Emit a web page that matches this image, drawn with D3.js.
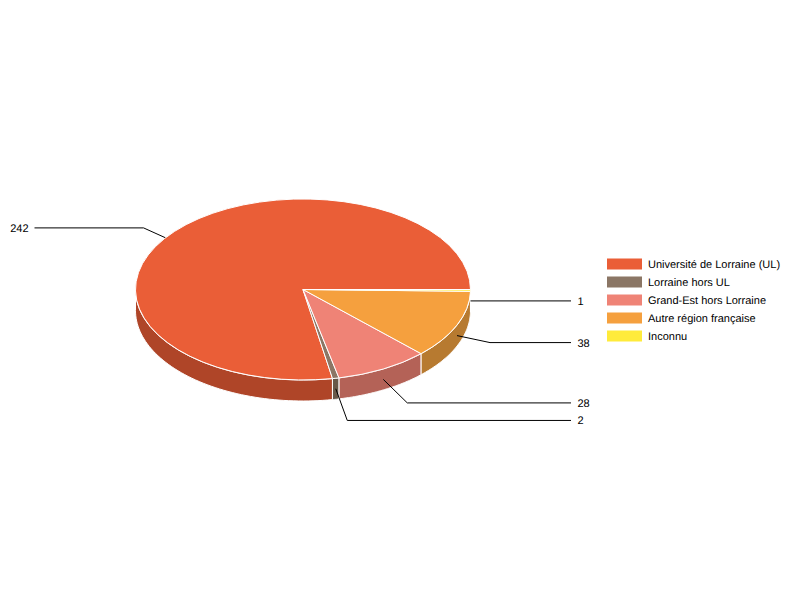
<!DOCTYPE html>
<html>
<head>
<meta charset="utf-8">
<style>
  html, body { margin: 0; padding: 0; background: #fff; }
  text { font-family: "Liberation Sans", Arial, sans-serif; font-size: 11px; fill: #000; text-rendering: geometricPrecision; }
</style>
</head>
<body>
<div id="container"></div>
<script src="https://cdnjs.cloudflare.com/ajax/libs/d3/7.8.5/d3.min.js"></script>
<script>
// Data
const categories = ['Université de Lorraine (UL)', 'Lorraine hors UL', 'Grand-Est hors Lorraine', 'Autre région française', 'Inconnu'];
const values = [242, 2, 28, 38, 1];
const topColors = ['#ea5e37', '#8b7665', '#ef8376', '#f5a03e', '#ffeb3b'];
const sideColors = ['#af4528', '#685849', '#b46257', '#b77a30', '#bfb02c'];

// Leader line bends, relative to the anchor on the pie edge
const bends = [[-31, -14], [11.5, 31.7], [24, 23.5], [33, 7], [0, 0]];

const width = 800;
const height = 600;
const cx = 303;
const cy = 289.5;
const rx = 167.5;
const ry = 90.5;
const depth = 21;
const lineEnd = { left: 34.5, right: 571 };

const svg = d3.select('#container').append('svg')
    .attr('width', width)
    .attr('height', height)
    .style('display', 'block');

const topColor = d3.scaleOrdinal().domain(categories).range(topColors);
const sideColor = d3.scaleOrdinal().domain(categories).range(sideColors);

// Counter clockwise from 3 o'clock, angles are d3 ones (0 at 12 o'clock)
const pie = d3.pie().sort(null).startAngle(Math.PI / 2).endAngle(Math.PI / 2 - 2 * Math.PI);
const slices = pie(values).map((d, i) => ({ ...d, name: categories[i], bend: bends[i] }));

const px = a => cx + rx * Math.sin(a);
const py = a => cy - ry * Math.cos(a);

// Leader lines
const leader = d => {
    const mid = (d.startAngle + d.endAngle) / 2;
    const ax = px(mid);
    const ay = py(mid) + depth / 2;
    const bx = ax + d.bend[0];
    const by = ay + d.bend[1];
    const ex = bx < cx ? lineEnd.left : lineEnd.right;
    return { pts: [[ax, ay], [bx, by], [ex, by]], left: bx < cx };
};

function drawLeaders(sel) {
    sel.append('path')
        .attr('d', d => d3.line()(leader(d).pts))
        .attr('fill', 'none')
        .attr('stroke', '#000')
        .attr('stroke-width', 1);
    sel.append('text')
        .attr('x', d => leader(d).left ? 28.5 : 577.5)
        .attr('y', d => leader(d).pts[2][1])
        .attr('dy', '0.36em')
        .attr('text-anchor', d => leader(d).left ? 'end' : 'start')
        .text(d => d.value);
}

// The big slice has its leader behind the pie
svg.append('g').selectAll('g')
    .data(slices.filter(d => d.index === 0))
    .enter().append('g')
    .call(drawLeaders);

// Side walls, only the front part of the ellipse
const wall = d => {
    let a0 = Math.min(d.startAngle, d.endAngle);
    let a1 = Math.max(d.startAngle, d.endAngle);
    if (a1 <= Math.PI / 2) { a0 += 2 * Math.PI; a1 += 2 * Math.PI; }
    if (a0 < Math.PI / 2 && a1 > Math.PI / 2) { a0 += 2 * Math.PI; a1 += 2 * Math.PI; }
    a0 = Math.max(a0, Math.PI / 2);
    a1 = Math.min(a1, 3 * Math.PI / 2);
    if (a1 <= a0) return null;
    const steps = d3.range(0, 61).map(k => a0 + (a1 - a0) * k / 60);
    const pts = steps.map(a => [px(a), py(a)])
        .concat(steps.slice().reverse().map(a => [px(a), py(a) + depth]));
    return d3.line()(pts) + 'Z';
};

svg.append('g').selectAll('path')
    .data(slices)
    .enter().append('path')
    .attr('d', wall)
    .attr('fill', d => sideColor(d.name))
    .attr('stroke', '#fff')
    .attr('stroke-width', 1);

// Top of the pie: unit arc squeezed into the ellipse
const arc = d3.arc().innerRadius(0).outerRadius(1);
svg.append('g')
    .attr('transform', 'translate(' + cx + ',' + cy + ') scale(' + rx + ',' + ry + ')')
    .selectAll('path')
    .data(slices)
    .enter().append('path')
    .attr('d', arc)
    .attr('fill', d => topColor(d.name))
    .attr('stroke', '#fff')
    .attr('stroke-width', 1)
    .attr('vector-effect', 'non-scaling-stroke');

svg.append('g').selectAll('g')
    .data(slices.filter(d => d.index !== 0))
    .enter().append('g')
    .call(drawLeaders);

// Legend
const legendY = d3.scalePoint().domain(categories).range([264, 336]);
const legend = svg.append('g').selectAll('g')
    .data(categories)
    .enter().append('g')
    .attr('transform', d => 'translate(607,' + legendY(d) + ')');

legend.append('rect')
    .attr('x', 0)
    .attr('y', -5.5)
    .attr('width', 35)
    .attr('height', 11)
    .attr('fill', d => topColor(d));

legend.append('text')
    .attr('x', 41)
    .attr('dy', '0.36em')
    .text(d => d);
</script>
</body>
</html>
